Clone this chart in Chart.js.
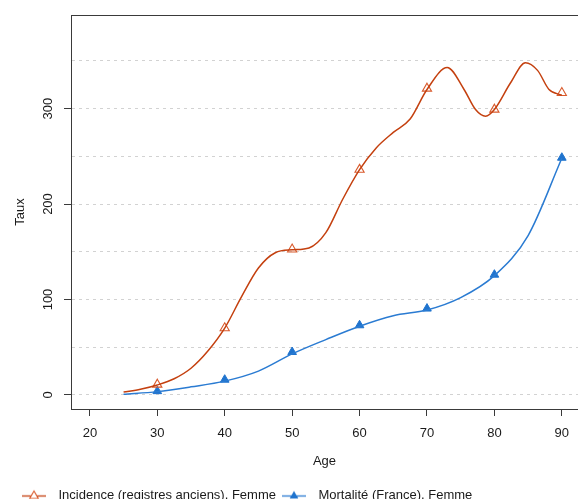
<!DOCTYPE html>
<html><head><meta charset="utf-8">
<script src="https://cdn.jsdelivr.net/npm/chart.js@4"></script>
<style>html,body{margin:0;padding:0;background:#fff;}canvas{display:block;}</style>
</head><body>
<canvas id="c" width="578" height="499"></canvas>
<script>
// ---- data ----
const seriesNames = ['Incidence (registres anciens), Femme', 'Mortalité (France), Femme'];
const incLineAges   = [25, 27.5, 30, 32.5, 35, 37.5, 40, 42.5, 45, 47.5, 50, 52.5, 55, 57.5, 60, 62.5, 65, 67.5, 70, 73, 75.5, 77.2, 78.7, 80, 82.4, 84.6, 86.4, 88.1, 90];
const incLineValues = [3, 6, 10.5, 17, 28, 46, 70, 103, 133, 149, 152, 154, 170, 205, 236, 259, 275, 289, 320, 343, 320, 299, 292, 299, 327, 348, 340, 320, 314];
const incMarkerAges   = [30, 40, 50, 60, 70, 80, 90];
const incMarkerValues = [11, 70, 152.5, 236, 321, 299, 316.5];
const morLineAges   = [25, 30, 35, 40, 45, 50, 55, 60, 65, 70, 75, 80, 85, 90];
const morLineValues = [0.7, 3.5, 8.5, 14.5, 25, 43, 58, 72, 83, 89, 102, 125, 167, 248];
const morMarkerAges   = [30, 40, 50, 60, 70, 80, 90];
const morMarkerValues = [4, 16, 45, 73, 90.5, 126, 248.5];
const yTickLabels = [0, 100, 200, 300];
const xTitle = 'Age';
const yTitle = 'Taux';

const FONT = '"Liberation Sans", Arial, Helvetica, sans-serif';
const TXT = '#1a1a1a';
const AXIS = '#3a3a3a';
const RED_LINE = '#C4400F', RED_PT = '#D95A2C';
const BLUE_LINE = '#2A7BD2', BLUE_PT = '#1F73CE';

const pts = (xs, ys) => xs.map((x, i) => ({x: x, y: ys[i]}));

function legendSymbol(lineColor, ptColor, filled) {
  const c = document.createElement('canvas');
  c.width = 36; c.height = 14;
  const g = c.getContext('2d');
  g.strokeStyle = lineColor; g.lineWidth = 1.3;
  g.beginPath(); g.moveTo(6, 7.5); g.lineTo(30, 7.5); g.stroke();
  const r = 5;
  g.beginPath();
  g.moveTo(18, 7.5 - r);
  g.lineTo(18 + r * Math.sin(2 * Math.PI / 3), 7.5 - r * Math.cos(2 * Math.PI / 3));
  g.lineTo(18 + r * Math.sin(4 * Math.PI / 3), 7.5 - r * Math.cos(4 * Math.PI / 3));
  g.closePath();
  if (filled) { g.fillStyle = ptColor; g.fill(); }
  else { g.fillStyle = '#fff'; g.fill(); g.strokeStyle = ptColor; g.lineWidth = 1.1; g.stroke(); }
  return c;
}
const symInc = legendSymbol(RED_LINE, RED_PT, false);
const symMor = legendSymbol(BLUE_LINE, BLUE_PT, true);

const framePlugin = {
  id: 'frame',
  beforeDatasetsDraw(chart) {
    const {ctx, chartArea: a} = chart;
    ctx.save();
    ctx.strokeStyle = AXIS; ctx.lineWidth = 1;
    const y = Math.round(a.top) + 0.5;
    ctx.beginPath(); ctx.moveTo(a.left, y); ctx.lineTo(a.right, y); ctx.stroke();
    ctx.restore();
  },
  afterDraw(chart) {
    const s = chart.scales.y, ctx = chart.ctx;
    ctx.save();
    ctx.font = '13px ' + FONT;
    ctx.fillStyle = TXT;
    ctx.textAlign = 'center'; ctx.textBaseline = 'middle';
    yTickLabels.forEach(v => {
      const py = s.getPixelForValue(v);
      ctx.save(); ctx.translate(s.right - 23, py); ctx.rotate(-Math.PI / 2);
      ctx.fillText(String(v), 0, 0); ctx.restore();
    });
    ctx.restore();
  }
};

new Chart(document.getElementById('c'), {
  type: 'line',
  data: {
    datasets: [
      {label: seriesNames[0], data: pts(incLineAges, incLineValues), borderColor: RED_LINE, borderWidth: 1.5,
       pointRadius: 0, cubicInterpolationMode: 'monotone', fill: false},
      {label: seriesNames[0] + ' pts', data: pts(incMarkerAges, incMarkerValues), showLine: false,
       pointStyle: 'triangle', pointRadius: 5.3, pointBorderWidth: 1.1, pointBorderColor: RED_PT,
       pointBackgroundColor: 'rgba(0,0,0,0)', borderColor: RED_PT},
      {label: seriesNames[1], data: pts(morLineAges, morLineValues), borderColor: BLUE_LINE, borderWidth: 1.5,
       pointRadius: 0, cubicInterpolationMode: 'monotone', fill: false},
      {label: seriesNames[1] + ' pts', data: pts(morMarkerAges, morMarkerValues), showLine: false,
       pointStyle: 'triangle', pointRadius: 5, pointBorderWidth: 1, pointBorderColor: BLUE_PT,
       pointBackgroundColor: BLUE_PT, borderColor: BLUE_PT}
    ]
  },
  options: {
    responsive: false, animation: false, devicePixelRatio: 1,
    layout: {autoPadding: false, padding: {top: 15, left: 16, right: 0, bottom: 0}},
    scales: {
      x: {
        type: 'linear', min: 17.2, max: 92.4,
        ticks: {stepSize: 10, includeBounds: false, autoSkip: false, padding: 10,
                font: {size: 13, family: FONT}, color: TXT},
        grid: {drawOnChartArea: false, drawTicks: true, tickLength: 7, tickColor: AXIS, tickWidth: 1},
        border: {display: true, color: AXIS, width: 1},
        title: {display: true, text: xTitle, font: {size: 13, family: FONT}, color: TXT, padding: {top: 0, bottom: 20}},
        afterFit(s) { s.height = 80; s.paddingLeft = 0; s.paddingRight = 0; }
      },
      y: {
        type: 'linear', min: -14.7, max: 398,
        ticks: {stepSize: 50, includeBounds: false, display: false},
        grid: {drawOnChartArea: true, drawTicks: true, tickLength: 7, color: '#d2d2d2', lineWidth: 1,
               tickColor: ctx => (ctx.tick && ctx.tick.value % 100 === 0) ? AXIS : 'rgba(0,0,0,0)',
               tickBorderDash: [], tickWidth: 1},
        border: {display: true, color: AXIS, width: 1, dash: [3, 4]},
        title: {display: true, text: yTitle, font: {size: 13, family: FONT}, color: TXT, padding: {top: -3, bottom: 0}},
        afterFit(s) { s.width = 55; }
      }
    },
    plugins: {
      tooltip: {enabled: false},
      legend: {
        position: 'bottom', align: 'start', maxHeight: 10,
        labels: {
          usePointStyle: true, pointStyleWidth: 36, padding: 0,
          font: {size: 13, family: FONT}, color: TXT,
          generateLabels: () => [
            {text: seriesNames[0], pointStyle: symInc, fillStyle: RED_PT, strokeStyle: RED_PT, lineWidth: 0, hidden: false, datasetIndex: 0, fontColor: TXT},
            {text: seriesNames[1], pointStyle: symMor, fillStyle: BLUE_PT, strokeStyle: BLUE_PT, lineWidth: 0, hidden: false, datasetIndex: 2, fontColor: TXT}
          ]
        }
      }
    }
  },
  plugins: [framePlugin]
});
</script>
</body></html>
